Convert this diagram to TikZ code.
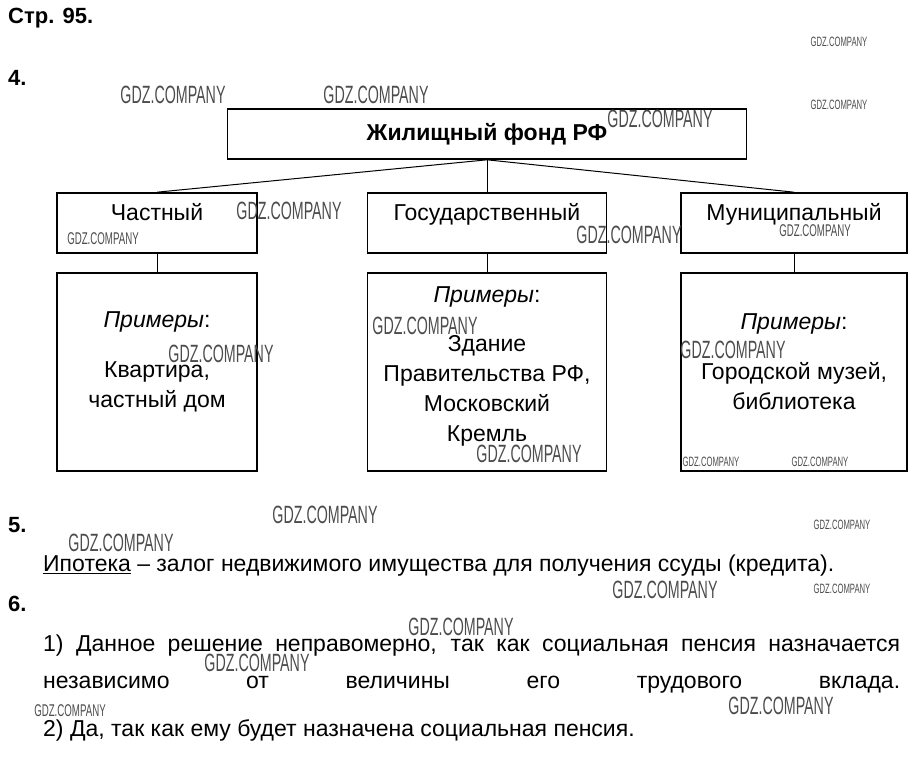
\documentclass[tikz,border=0pt]{standalone}
\usepackage{fontspec}
\setmainfont{Liberation Sans}
\usepackage{graphicx}
\usetikzlibrary{positioning}

\newcommand{\gdz}{\scalebox{0.57}[1]{GDZ.COMPANY}}

\tikzset{
  box/.style = {draw, line width=1.6pt, inner sep=0pt, font=\fontsize{23}{27}\selectfont},
  catbox/.style = {box, minimum height=60pt, text depth=22pt},
  ex/.style = {align=center, inner sep=0pt, font=\fontsize{23}{30}\selectfont},
  num/.style = {anchor=west, inner sep=0pt, font=\fontsize{22}{26}\selectfont\bfseries},
  line/.style = {anchor=west, inner sep=0pt, font=\fontsize{23}{26}\selectfont},
  wmbig/.style = {inner sep=0pt, text=black!70, font=\fontsize{25}{25}\selectfont},
  wmmid/.style = {inner sep=0pt, text=black!70, font=\fontsize{17}{17}\selectfont},
  wmsmall/.style = {inner sep=0pt, text=black!70, font=\fontsize{13.5}{14}\selectfont}
}

\begin{document}
\begin{tikzpicture}[x=1pt, y=-1pt, node distance=149pt, on grid]
   \useasboundingbox (0,0) rectangle (918,760);

   % headings
   \node[num] (page) at (8,18) {Стр. 95.};
   \node[num] (n4) at (8,78) {4.};

   % scheme
   \node[box, minimum width=519pt, minimum height=50pt, font=\fontsize{23}{27}\selectfont\bfseries] (fund) at (487,134) {Жилищный фонд РФ};
   \node[catbox, minimum width=200pt] (priv) at (157,223) {Частный};
   \node[catbox, minimum width=239pt] (state) at (487,223) {Государственный};
   \node[catbox, minimum width=226pt] (munic) at (794,223) {Муниципальный};
   \node[box, minimum width=200pt, minimum height=198pt] (priv_ex) [below = of priv] {};
   \node[box, minimum width=239pt, minimum height=198pt] (state_ex) [below = of state] {};
   \node[box, minimum width=226pt, minimum height=198pt] (munic_ex) [below = of munic] {};

   \node[ex] (priv_t) at ([yshift=10pt]priv_ex.center) {\textit{Примеры}:\\[20pt] Квартира,\\ частный дом};
   \node[ex] (state_t) at ([yshift=6pt]state_ex.center) {\textit{Примеры}:\\[19pt] Здание\\ Правительства РФ,\\ Московский\\ Кремль};
   \node[ex] (munic_t) at ([yshift=10pt]munic_ex.center) {\textit{Примеры}:\\[20pt] Городской музей,\\ библиотека};

   \path[draw, line width=1pt]
    (fund.south) edge (priv.north)
                 edge (state.north)
                 edge (munic.north)
    (priv.south) edge (priv_ex.north)
    (state.south) edge (state_ex.north)
    (munic.south) edge (munic_ex.north);

   % tasks 5 and 6
   \node[num] (n5) at (8,525) {5.};
   \node[line] (mortgage) at (43,566) {\underline{Ипотека} – залог недвижимого имущества для получения ссуды (кредита).};
   \node[num] (n6) at (8,604) {6.};
   \node[line] (ans1) at (43,646) {\makebox[857pt][s]{1) Данное решение неправомерно, так как социальная пенсия назначается}};
   \node[line] (ans1b) at (43,685) {\makebox[857pt][s]{независимо от величины его трудового вклада.}};
   \node[line] (ans2) at (43,730) {2) Да, так как ему будет назначена социальная пенсия.};

   % watermarks
   \node[wmbig] (w1) at (173,95) {\gdz};
   \node[wmbig] (w2) at (376,95) {\gdz};
   \node[wmbig] (w3) at (660,119) {\gdz};
   \node[wmbig] (w4) at (289,211) {\gdz};
   \node[wmbig] (w5) at (629,235) {\gdz};
   \node[wmbig] (w6) at (425,326) {\gdz};
   \node[wmbig] (w7) at (221,354) {\gdz};
   \node[wmbig] (w8) at (733,350) {\gdz};
   \node[wmbig] (w9) at (529,454) {\gdz};
   \node[wmbig] (w10) at (325,515) {\gdz};
   \node[wmbig] (w11) at (121,543) {\gdz};
   \node[wmbig] (w12) at (665,590) {\gdz};
   \node[wmbig] (w13) at (461,627) {\gdz};
   \node[wmbig] (w14) at (257,663) {\gdz};
   \node[wmbig] (w15) at (781,706) {\gdz};
   \node[wmmid] (w16) at (103,239) {\gdz};
   \node[wmmid] (w17) at (815,231) {\gdz};
   \node[wmmid] (w18) at (70,711) {\gdz};
   \node[wmsmall] (w19) at (839,42) {\gdz};
   \node[wmsmall] (w20) at (839,105) {\gdz};
   \node[wmsmall] (w21) at (711,462) {\gdz};
   \node[wmsmall] (w22) at (820,462) {\gdz};
   \node[wmsmall] (w23) at (842,525) {\gdz};
   \node[wmsmall] (w24) at (842,589) {\gdz};
\end{tikzpicture}
\end{document}
